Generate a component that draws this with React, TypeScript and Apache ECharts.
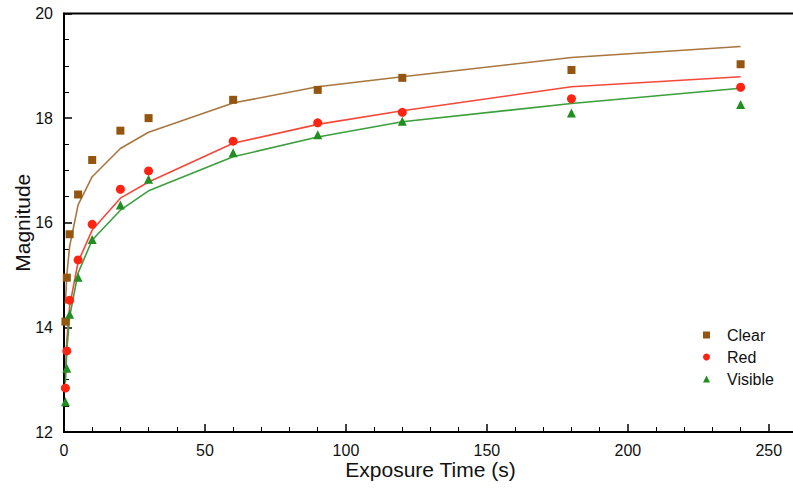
import React, { useEffect, useRef } from "react";
import * as echarts from "echarts";

const exposures = [0.5, 1, 2, 5, 10, 20, 30, 60, 90, 120, 180, 240];

const clearObs = [14.11, 14.95, 15.78, 16.54, 17.2, 17.76, 18.0, 18.35, 18.54, 18.77, 18.92, 19.03];
const redObs = [12.84, 13.55, 14.52, 15.29, 15.97, 16.64, 16.99, 17.56, 17.91, 18.11, 18.37, 18.59];
const visibleObs = [12.58, 13.22, 14.25, 14.96, 15.68, 16.34, 16.83, 17.34, 17.68, 17.94, 18.1, 18.26];

const clearFit = [14.45, 15.0, 15.55, 16.34, 16.88, 17.42, 17.73, 18.29, 18.6, 18.79, 19.16, 19.37];
const redFit = [13.1, 13.75, 14.4, 15.25, 15.86, 16.47, 16.78, 17.52, 17.88, 18.14, 18.6, 18.79];
const visibleFit = [12.94, 13.57, 14.2, 15.04, 15.67, 16.24, 16.61, 17.26, 17.64, 17.93, 18.28, 18.57];

const xTicks = { min: 0, max: 260, interval: 50 };
const yTicks = { min: 12, max: 20, interval: 2 };

const FONT = "Liberation Sans";

const pairs = (ys: number[]) => exposures.map((x, i) => [x, ys[i]]);

export default function App() {
  const ref = useRef<HTMLDivElement>(null);
  useEffect(() => {
    document.body.style.margin = "0";
    const chart = echarts.init(ref.current!, null, { renderer: "svg" });
    const axisCommon = {
      axisLine: { show: true, onZero: false, lineStyle: { color: "#000", width: 2 } },
      axisTick: { show: true, inside: true, length: 8, lineStyle: { color: "#000", width: 1.5 } },
      minorTick: { show: true, length: 5, lineStyle: { color: "#000", width: 1 } },
      splitLine: { show: false },
      axisLabel: { color: "#111", fontSize: 16, fontFamily: FONT },
      nameTextStyle: { color: "#111", fontSize: 21, fontFamily: FONT },
      nameMoveOverlap: false,
    };
    chart.setOption({
      animation: false,
      backgroundColor: "#fff",
      grid: {
        left: 64,
        top: 13.5,
        right: -4,
        bottom: 59,
        show: true,
        borderColor: "#000",
        borderWidth: 2,
        containLabel: false,
        outerBoundsMode: "none",
      },
      xAxis: {
        type: "value",
        ...xTicks,
        ...axisCommon,
        minorTick: { ...axisCommon.minorTick, splitNumber: 5 },
        axisLabel: { ...axisCommon.axisLabel, margin: 10, showMaxLabel: false },
        name: "Exposure Time (s)",
        nameLocation: "middle",
        nameGap: 27,
      },
      yAxis: {
        type: "value",
        ...yTicks,
        ...axisCommon,
        minorTick: { ...axisCommon.minorTick, splitNumber: 4 },
        axisLabel: { ...axisCommon.axisLabel, margin: 11 },
        name: "Magnitude",
        nameLocation: "middle",
        nameGap: 31,
        nameRotate: 90,
      },
      legend: {
        orient: "vertical",
        left: 698,
        top: 322,
        itemWidth: 7,
        itemHeight: 7,
        itemGap: 6,
        data: ["Clear", "Red", "Visible"],
        textStyle: { color: "#111", fontSize: 16, fontFamily: FONT, padding: [0, 0, 0, 12] },
      },
      series: [
        {
          name: "Clear fit",
          type: "line",
          data: pairs(clearFit),
          showSymbol: false,
          symbol: "none",
          lineStyle: { color: "#a8763e", width: 1.6 },
          z: 2,
        },
        {
          name: "Red fit",
          type: "line",
          data: pairs(redFit),
          showSymbol: false,
          symbol: "none",
          lineStyle: { color: "#f5483a", width: 1.6 },
          z: 2,
        },
        {
          name: "Visible fit",
          type: "line",
          data: pairs(visibleFit),
          showSymbol: false,
          symbol: "none",
          lineStyle: { color: "#3c9e3c", width: 1.6 },
          z: 2,
        },
        {
          name: "Clear",
          type: "scatter",
          data: pairs(clearObs),
          symbol: "rect",
          symbolSize: 8,
          itemStyle: { color: "#93550f", opacity: 1 },
          z: 3,
        },
        {
          name: "Red",
          type: "scatter",
          data: pairs(redObs),
          symbol: "circle",
          symbolSize: 9,
          itemStyle: { color: "#ff2412", opacity: 1 },
          z: 3,
        },
        {
          name: "Visible",
          type: "scatter",
          data: pairs(visibleObs),
          symbol: "triangle",
          symbolSize: 9,
          itemStyle: { color: "#208e20", opacity: 1 },
          z: 3,
        },
      ],
    });
    return () => chart.dispose();
  }, []);
  return <div ref={ref} style={{ width: 793, height: 491 }} />;
}
